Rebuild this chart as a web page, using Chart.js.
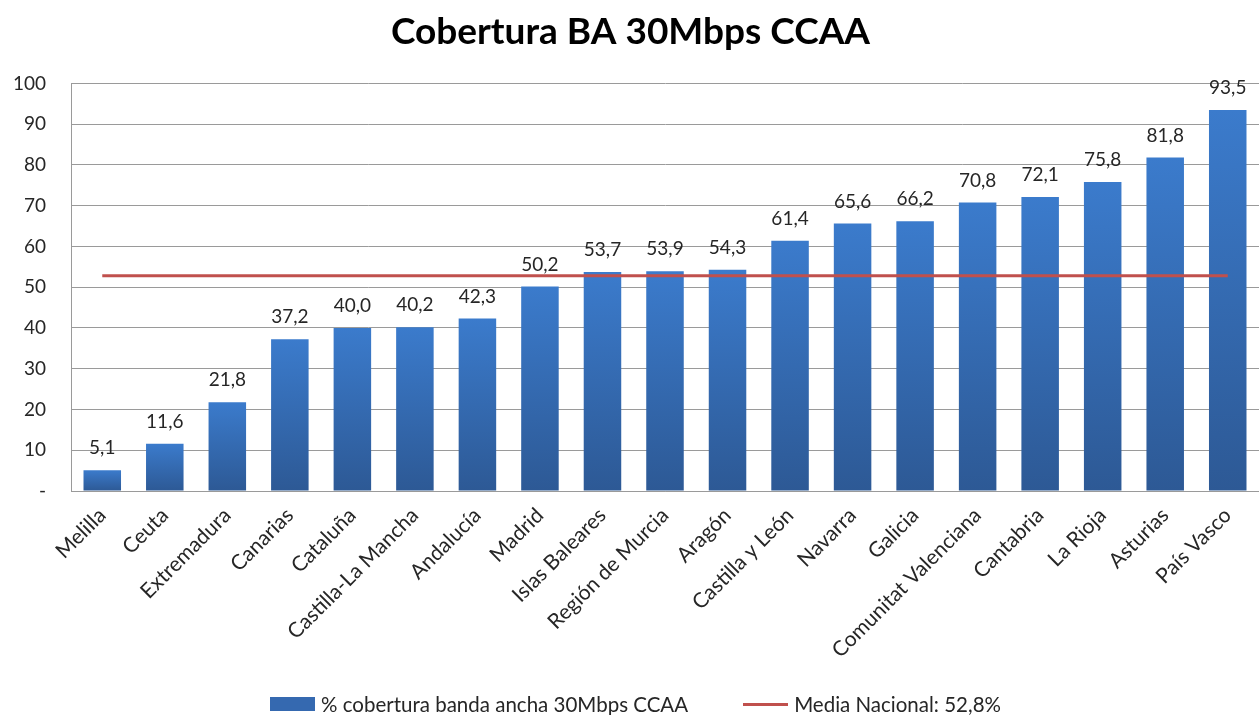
<!DOCTYPE html>
<html>
<head>
<meta charset="utf-8">
<script src="https://cdn.jsdelivr.net/npm/chart.js@4"></script>
<style>
  html, body { margin: 0; padding: 0; background: #fff; }
  #wrap { position: relative; width: 1259px; height: 715px; }
  #legend {
    position: absolute; left: 270px; top: 691px; height: 26px;
    display: flex; align-items: center; gap: 55px;
    font: 20.5px Lato, "Open Sans", sans-serif; color: #262626; white-space: nowrap;
  }
  #legend .item { display: flex; align-items: center; }
  #legend .swatch { display: inline-block; width: 45px; margin-right: 6px; }
</style>
</head>
<body>
<div id="wrap">
  <canvas id="chart"></canvas>
  <div id="legend"></div>
</div>
<script>
const regions = ['Melilla', 'Ceuta', 'Extremadura', 'Canarias', 'Cataluña', 'Castilla-La Mancha',
  'Andalucía', 'Madrid', 'Islas Baleares', 'Región de Murcia', 'Aragón', 'Castilla y León',
  'Navarra', 'Galicia', 'Comunitat Valenciana', 'Cantabria', 'La Rioja', 'Asturias', 'País Vasco'];
const coverage = [5.1, 11.6, 21.8, 37.2, 40.0, 40.2, 42.3, 50.2, 53.7, 53.9, 54.3, 61.4,
  65.6, 66.2, 70.8, 72.1, 75.8, 81.8, 93.5];
const nationalAvg = 52.8;
const avgLine = regions.map(() => nationalAvg);

const FONT = 'Lato, "Open Sans", sans-serif';
const TEXT = '#262626';
const GRID = '#9a9a9a';

function barGradient(ctx) {
  const chart = ctx.chart;
  const y = chart.scales.y;
  if (!y || !chart.chartArea || ctx.type !== 'data') return '#3a78c8';
  const top = y.getPixelForValue(ctx.raw);
  const bottom = y.getPixelForValue(0);
  if (!isFinite(top) || !isFinite(bottom)) return '#3a78c8';
  const g = chart.ctx.createLinearGradient(0, top, 0, bottom);
  g.addColorStop(0, '#3b7bcc');
  g.addColorStop(1, '#2d5995');
  return g;
}

// value labels above each bar, comma decimals
const valueLabels = {
  id: 'valueLabels',
  afterDatasetsDraw(chart) {
    const meta = chart.getDatasetMeta(0);
    const c = chart.ctx;
    c.save();
    c.font = '19px ' + FONT;
    c.fillStyle = TEXT;
    c.textAlign = 'center';
    c.textBaseline = 'middle';
    meta.data.forEach((bar, i) => {
      c.fillText(coverage[i].toFixed(1).replace('.', ','), bar.x, bar.y - 22);
    });
    c.restore();
  }
};

const chart = new Chart(document.getElementById('chart'), {
  data: {
    labels: regions,
    datasets: [
      {
        type: 'bar',
        label: '% cobertura banda ancha 30Mbps CCAA',
        data: coverage,
        backgroundColor: barGradient,
        borderWidth: 0,
        categoryPercentage: 1,
        barPercentage: 0.6,
        order: 2,
      },
      {
        type: 'line',
        label: 'Media Nacional: 52,8%',
        data: avgLine,
        borderColor: '#c0504d',
        borderWidth: 3,
        pointRadius: 0,
        fill: false,
        order: 1,
      },
    ],
  },
  options: {
    responsive: true,
    maintainAspectRatio: false,
    animation: false,
    layout: { padding: { left: 0, right: -2, top: 0, bottom: 0 } },
    plugins: {
      title: {
        display: true,
        text: 'Cobertura BA 30Mbps CCAA',
        color: '#000',
        font: { family: FONT, size: 37, weight: 'bold' },
        padding: { top: 10, bottom: 29 },
      },
      legend: { display: false },
      tooltip: { enabled: false },
    },
    scales: {
      x: {
        grid: { display: false, drawTicks: false },
        border: { color: GRID, width: 1 },
        ticks: {
          color: TEXT,
          font: { family: FONT, size: 21 },
          maxRotation: 45,
          minRotation: 45,
          autoSkip: false,
          padding: 12,
        },
        afterFit: s => { s.height = 224; },
      },
      y: {
        min: 0,
        max: 100,
        grid: { color: GRID, drawTicks: false },
        border: { color: GRID, width: 1 },
        ticks: {
          stepSize: 10,
          color: TEXT,
          font: { family: FONT, size: 19 },
          padding: 25,
          callback: v => v === 0 ? '-' : v,
        },
        afterFit: s => { s.width = 71; },
      },
    },
  },
  plugins: [valueLabels],
});

// legend: bar swatch and line swatch, built from the datasets
const legendEl = document.getElementById('legend');
chart.data.datasets.forEach(ds => {
  const item = document.createElement('span');
  item.className = 'item';
  const sw = document.createElement('span');
  sw.className = 'swatch';
  if (ds.type === 'bar') {
    sw.style.height = '14px';
    sw.style.background = '#3569b0';
  } else {
    sw.style.height = '3px';
    sw.style.background = ds.borderColor;
  }
  item.appendChild(sw);
  item.appendChild(document.createTextNode(ds.label));
  legendEl.appendChild(item);
});
</script>
</body>
</html>
